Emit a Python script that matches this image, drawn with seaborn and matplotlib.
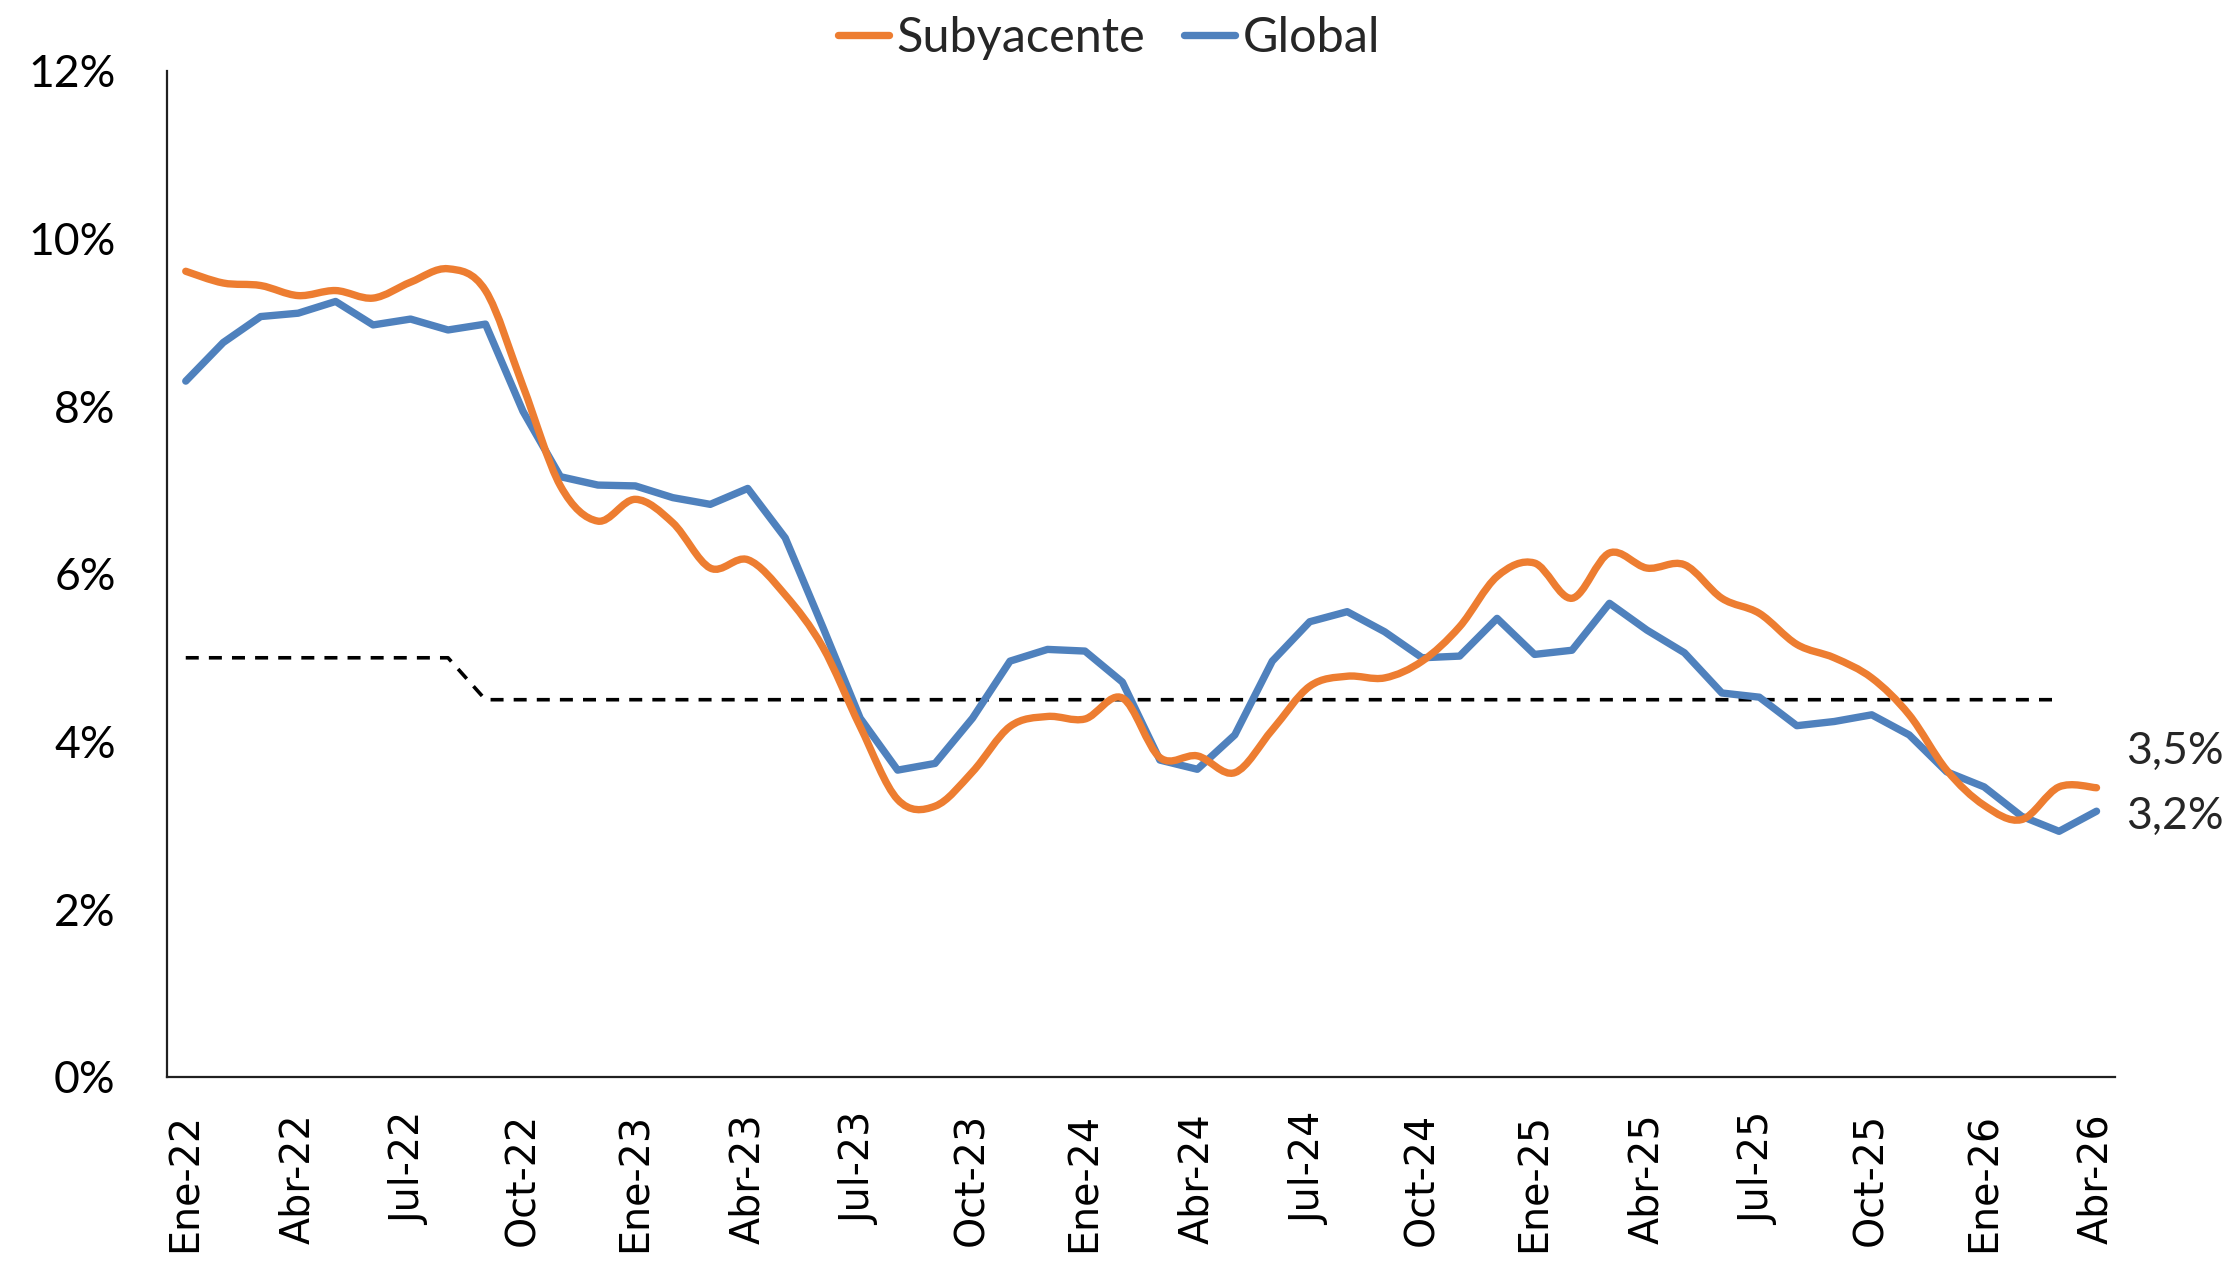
import numpy as np
import pandas as pd
import matplotlib
matplotlib.use("Agg")
import matplotlib.pyplot as plt
import seaborn as sns
from matplotlib.path import Path
from matplotlib.patches import PathPatch
from matplotlib.lines import Line2D
from matplotlib.ticker import FuncFormatter

# data (percent)
meses = ["Ene", "Feb", "Mar", "Abr", "May", "Jun", "Jul", "Ago", "Sep", "Oct", "Nov", "Dic"]
fechas = [f"{m}-{a}" for a in range(22, 27) for m in meses][:52]

subyacente = [9.61, 9.47, 9.44, 9.32, 9.38, 9.29, 9.48, 9.64, 9.38, 8.24,
              7.05, 6.63, 6.89, 6.61, 6.07, 6.17, 5.75, 5.13, 4.18, 3.31,
              3.23, 3.64, 4.18, 4.30, 4.27, 4.52, 3.81, 3.83, 3.63, 4.14,
              4.66, 4.78, 4.76, 4.96, 5.37, 5.97, 6.13, 5.71, 6.25, 6.07,
              6.11, 5.71, 5.53, 5.16, 5.00, 4.76, 4.32, 3.66, 3.24, 3.07,
              3.46, 3.45]

global_ = [8.30, 8.76, 9.07, 9.11, 9.25, 8.97, 9.04, 8.91, 8.98, 7.94,
           7.16, 7.06, 7.05, 6.91, 6.83, 7.02, 6.43, 5.37, 4.28, 3.66,
           3.74, 4.28, 4.96, 5.10, 5.08, 4.71, 3.78, 3.67, 4.08, 4.96,
           5.43, 5.55, 5.31, 5.00, 5.02, 5.47, 5.04, 5.09, 5.65, 5.33,
           5.06, 4.58, 4.53, 4.19, 4.24, 4.32, 4.08, 3.64, 3.46, 3.11,
           2.93, 3.17]

meta = [5.0, 5.0, 5.0, 5.0, 5.0, 5.0, 5.0, 5.0, 4.5, 4.5,
        4.5, 4.5, 4.5, 4.5, 4.5, 4.5, 4.5, 4.5, 4.5, 4.5,
        4.5, 4.5, 4.5, 4.5, 4.5, 4.5, 4.5, 4.5, 4.5, 4.5,
        4.5, 4.5, 4.5, 4.5, 4.5, 4.5, 4.5, 4.5, 4.5, 4.5,
        4.5, 4.5, 4.5, 4.5, 4.5, 4.5, 4.5, 4.5, 4.5, 4.5,
        4.5, np.nan]

etiquetas_fin = ["3,5%", "3,2%"]

NARANJA = "#ED7D31"
AZUL = "#4F81BD"

df = pd.DataFrame({"idx": np.arange(len(fechas)), "Subyacente": subyacente,
                   "Global": global_, "Meta": meta})

sns.set_theme(style="white")
plt.rcParams["font.family"] = ["Lato", "DejaVu Sans"]

fig = plt.figure(figsize=(22.36, 12.66), dpi=100)
ax = fig.add_axes([0.0747, 0.1493, 0.8713, 0.7947])


def suavizar(xs, ys):
    # excel-style smoothed line: cubic bezier through the points
    pts = np.column_stack([xs, ys]).astype(float)
    n = len(pts)
    verts = [pts[0]]
    codes = [Path.MOVETO]
    for i in range(n - 1):
        p0 = pts[i - 1] if i > 0 else pts[i]
        p1, p2 = pts[i], pts[i + 1]
        p3 = pts[i + 2] if i + 2 < n else pts[i + 1]
        verts += [p1 + (p2 - p0) / 6, p2 - (p3 - p1) / 6, p2]
        codes += [Path.CURVE4] * 3
    return Path(verts, codes)


sns.lineplot(data=df, x="idx", y="Meta", ax=ax, color="black", lw=2.6,
             dashes=False, linestyle=(0, (3.6, 2.8)))
sns.lineplot(data=df, x="idx", y="Global", ax=ax, color=AZUL, lw=5.3,
             solid_joinstyle="round", solid_capstyle="round")
ax.add_patch(PathPatch(suavizar(df["idx"], df["Subyacente"]), fill=False,
                       edgecolor=NARANJA, lw=5.3, capstyle="round", zorder=2.5))

ax.set_xlim(-0.5, len(fechas) - 0.5)
ax.set_ylim(0, 12)
ax.set_yticks(range(0, 13, 2))
ax.yaxis.set_major_formatter(FuncFormatter(lambda v, p: f"{v:.0f}%"))
ax.set_xticks(df["idx"][::3])
ax.set_xticklabels(fechas[::3], rotation=90, family="DejaVu Sans", fontsize=28.5)
ax.tick_params(axis="y", length=0, pad=37, labelsize=32, labelcolor="black")
ax.tick_params(axis="x", length=0, pad=26, labelcolor="black")
ax.set_xlabel("")
ax.set_ylabel("")

for s in ["top", "right"]:
    ax.spines[s].set_visible(False)
for s in ["left", "bottom"]:
    ax.spines[s].set_color("#202020")
    ax.spines[s].set_linewidth(1.6)

# end labels
ultimo = df["idx"].iloc[-1]
ax.annotate(etiquetas_fin[0], xy=(ultimo, subyacente[-1]), xytext=(21, 26),
            textcoords="offset points", va="center", ha="left", fontsize=32)
ax.annotate(etiquetas_fin[1], xy=(ultimo, global_[-1]), xytext=(21, -4),
            textcoords="offset points", va="center", ha="left", fontsize=32)

handles = [Line2D([], [], color=NARANJA, lw=5.3, solid_capstyle="round"),
           Line2D([], [], color=AZUL, lw=5.3, solid_capstyle="round")]
fig.legend(handles, ["Subyacente", "Global"], loc="upper center",
           bbox_to_anchor=(0.496, 1.003), ncol=2, frameon=False, fontsize=35,
           handlelength=1.05, handletextpad=0.15, columnspacing=0.8,
           borderaxespad=0)

fig.savefig("out.png", dpi=100)
